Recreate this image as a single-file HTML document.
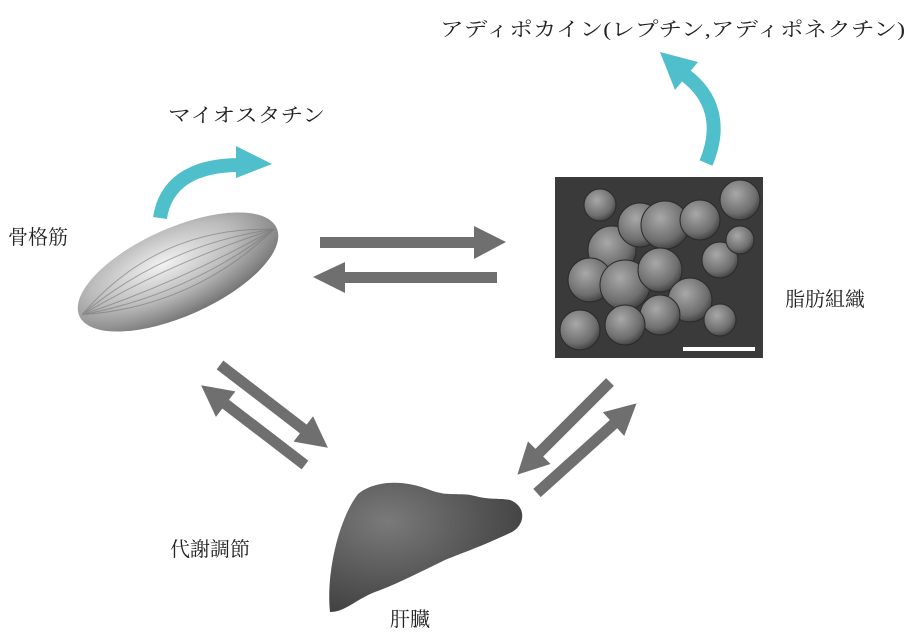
<!DOCTYPE html>
<html><head><meta charset="utf-8"><style>
html,body{margin:0;padding:0;background:#fff;}
svg{display:block;}
text{font-family:"Liberation Serif","Noto Serif CJK SC",serif;font-size:20px;fill:#222;}
</style></head><body>
<svg width="920" height="640" viewBox="0 0 920 640" xmlns="http://www.w3.org/2000/svg">
<defs>
<radialGradient id="mg" cx="0.45" cy="0.35" r="0.7">
<stop offset="0" stop-color="#f2f2f2"/><stop offset="0.5" stop-color="#bdbdbd"/><stop offset="1" stop-color="#6a6a6a"/>
</radialGradient>
<radialGradient id="cg" cx="0.4" cy="0.35" r="0.7">
<stop offset="0" stop-color="#a8a8a8"/><stop offset="0.7" stop-color="#6e6e6e"/><stop offset="1" stop-color="#3a3a3a"/>
</radialGradient>
<radialGradient id="lg" cx="0.3" cy="0.3" r="0.8">
<stop offset="0" stop-color="#7a7a7a"/><stop offset="0.6" stop-color="#555"/><stop offset="1" stop-color="#3e3e3e"/>
</radialGradient>
</defs>

<text x="440" y="36" textLength="465" lengthAdjust="spacingAndGlyphs">アディポカイン(レプチン,アディポネクチン)</text>
<text x="168" y="122" textLength="157" lengthAdjust="spacingAndGlyphs">マイオスタチン</text>
<text x="8" y="244">骨格筋</text>
<text x="785" y="306">脂肪組織</text>
<text x="170" y="556">代謝調節</text>
<text x="390" y="626">肝臓</text>

<g transform="translate(178,272) rotate(-24)">
<ellipse cx="0" cy="0" rx="108" ry="44" fill="url(#mg)"/>
<g stroke="#777" stroke-width="1" fill="none" opacity="0.6">
<path d="M-105 0 Q0 -50 105 0"/><path d="M-105 0 Q0 -30 105 0"/><path d="M-105 0 Q0 -12 105 0"/>
<path d="M-105 0 Q0 10 105 0"/><path d="M-105 0 Q0 25 105 0"/><path d="M-105 0 Q0 38 105 0"/>
</g>
</g>

<path d="M160 218 C165 185, 190 165, 240 165" stroke="#4fbfcc" stroke-width="14" fill="none"/>
<polygon points="236,146 272,164 236,178" fill="#4fbfcc"/>
<path d="M706 163 C722 125, 712 95, 685 75" stroke="#4fbfcc" stroke-width="14" fill="none"/>
<polygon points="660,52 698,62 675,90" fill="#4fbfcc"/>

<g fill="#6f6f6f">
<rect x="320" y="237" width="160" height="11"/>
<polygon points="474,226 506,242 474,259"/>
<rect x="338" y="272" width="159" height="11"/>
<polygon points="345,262 313,277 345,293"/>
<g transform="translate(220,365) rotate(37.5)"><rect x="0" y="-5.5" width="110" height="11"/><polygon points="105,-16 136,0 105,16"/></g>
<g transform="translate(305,465) rotate(-142.5)"><rect x="0" y="-5.5" width="105" height="11"/><polygon points="100,-16 131,0 100,16"/></g>
<g transform="translate(610,382) rotate(135)"><rect x="0" y="-5.5" width="105" height="11"/><polygon points="100,-16 131,0 100,16"/></g>
<g transform="translate(537,493) rotate(-42)"><rect x="0" y="-5.5" width="108" height="11"/><polygon points="103,-16 134,0 103,16"/></g>
</g>

<rect x="555" y="177" width="208" height="181" fill="#3a3a3a"/>
<g fill="url(#cg)" stroke="#2a2a2a" stroke-width="1">
<circle cx="612" cy="250" r="24"/><circle cx="640" cy="225" r="22"/><circle cx="665" cy="225" r="24"/>
<circle cx="700" cy="220" r="20"/><circle cx="740" cy="200" r="20"/><circle cx="590" cy="280" r="22"/>
<circle cx="625" cy="285" r="25"/><circle cx="660" cy="270" r="22"/><circle cx="690" cy="300" r="22"/>
<circle cx="660" cy="315" r="20"/><circle cx="625" cy="325" r="20"/><circle cx="580" cy="330" r="20"/>
<circle cx="720" cy="260" r="18"/><circle cx="740" cy="240" r="14"/><circle cx="600" cy="205" r="16"/>
<circle cx="720" cy="320" r="16"/>
</g>
<rect x="683" y="347" width="72" height="4" fill="#fff"/>

<path d="M330 612 C326 575, 338 520, 358 494 C372 482, 400 478, 430 490 C448 497, 460 492, 475 496 C490 500, 500 498, 510 500 C526 506, 526 524, 512 532 C485 545, 465 552, 445 560 C420 572, 395 585, 375 592 C355 600, 345 612, 330 612 Z" fill="url(#lg)"/>
</svg>
</body></html>
